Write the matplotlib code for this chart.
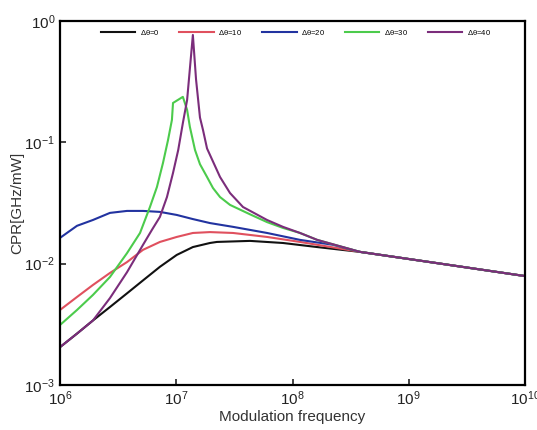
import matplotlib
matplotlib.use("Agg")
import matplotlib.pyplot as plt

plt.rcParams["font.family"] = ["Liberation Sans", "DejaVu Sans"]
plt.rcParams["mathtext.default"] = "regular"

# values (frequency in Hz, CPR in GHz/mW)
freq_0 = [1e6, 1.40e6, 1.92e6, 2.69e6, 3.77e6, 5.18e6, 7.24e6, 1.01e7, 1.39e7, 1.95e7, 2.24e7,
          4.31e7, 8.28e7, 1.63e8, 3.81e8, 1.52e9, 1e10]
cpr_0 = [2.05e-3, 2.65e-3, 3.40e-3, 4.39e-3, 5.69e-3, 7.28e-3, 9.42e-3, 1.18e-2, 1.37e-2, 1.48e-2, 1.51e-2,
         1.54e-2, 1.48e-2, 1.37e-2, 1.25e-2, 1.03e-2, 7.9e-3]

freq_10 = [1e6, 1.40e6, 1.92e6, 2.69e6, 3.77e6, 5.18e6, 7.24e6, 1.01e7, 1.39e7, 1.95e7, 3.08e7,
           6.04e7, 1.16e8, 3.81e8, 1.52e9, 1e10]
cpr_10 = [4.15e-3, 5.31e-3, 6.67e-3, 8.38e-3, 1.03e-2, 1.30e-2, 1.51e-2, 1.66e-2, 1.79e-2, 1.82e-2, 1.79e-2,
          1.66e-2, 1.51e-2, 1.25e-2, 1.03e-2, 7.9e-3]

freq_20 = [1e6, 1.40e6, 1.92e6, 2.69e6, 3.77e6, 5.18e6, 7.24e6, 1.01e7, 1.39e7, 1.95e7, 3.08e7,
           6.04e7, 1.16e8, 2.23e8, 3.81e8, 1.52e9, 1e10]
cpr_20 = [1.63e-2, 2.05e-2, 2.29e-2, 2.62e-2, 2.72e-2, 2.72e-2, 2.67e-2, 2.52e-2, 2.33e-2, 2.16e-2, 2.01e-2,
          1.79e-2, 1.57e-2, 1.43e-2, 1.25e-2, 1.03e-2, 7.9e-3]

freq_30 = [1e6, 1.40e6, 1.92e6, 2.69e6, 3.77e6, 4.88e6, 5.94e6, 6.82e6, 7.69e6, 8.49e6, 9.18e6, 9.38e6,
           1.14e7, 1.24e7, 1.31e7, 1.45e7, 1.60e7, 1.84e7, 2.07e7, 2.38e7, 2.90e7, 4.31e7, 6.04e7, 8.28e7,
           1.16e8, 1.63e8, 3.81e8, 1.52e9, 1e10]
cpr_30 = [3.12e-3, 4.15e-3, 5.52e-3, 7.76e-3, 1.22e-2, 1.79e-2, 2.93e-2, 4.28e-2, 6.76e-2, 0.104, 0.153, 0.211,
          0.237, 0.185, 0.134, 0.0865, 0.066, 0.0518, 0.0420, 0.0354, 0.0305, 0.0255, 0.0220, 0.0197,
          0.0179, 0.0157, 1.25e-2, 1.03e-2, 7.9e-3]

freq_40 = [1e6, 1.40e6, 1.92e6, 2.69e6, 3.77e6, 5.18e6, 6.18e6, 7.24e6, 8.32e6, 9.38e6, 1.04e7, 1.14e7,
           1.24e7, 1.39e7, 1.48e7, 1.60e7, 1.70e7, 1.84e7, 2.38e7, 2.90e7, 3.75e7, 6.04e7,
           8.28e7, 1.16e8, 1.63e8, 3.81e8, 1.52e9, 1e10]
cpr_40 = [2.05e-3, 2.65e-3, 3.40e-3, 5.2e-3, 8.5e-3, 1.43e-2, 1.9e-2, 2.43e-2, 3.54e-2, 5.59e-2, 8.65e-2, 0.144,
          0.223, 0.767, 0.33, 0.16, 0.126, 0.089, 0.0518, 0.0382, 0.0293, 0.0229,
          0.0201, 0.0179, 0.0157, 1.25e-2, 1.03e-2, 7.9e-3]

series = [
    (freq_0, cpr_0, "#111111", r"$\Delta\theta$=0"),
    (freq_10, cpr_10, "#e0505e", r"$\Delta\theta$=10"),
    (freq_20, cpr_20, "#2233a0", r"$\Delta\theta$=20"),
    (freq_30, cpr_30, "#4ccb4c", r"$\Delta\theta$=30"),
    (freq_40, cpr_40, "#7b2d7b", r"$\Delta\theta$=40"),
]

fig = plt.figure(figsize=(5.37, 4.30), dpi=100)
ax = fig.add_axes([0.1117, 0.1047, 0.866, 0.8465])

for f, v, color, label in series:
    ax.plot(f, v, color=color, lw=1.5, label=label)

ax.set_xscale("log")
ax.set_yscale("log")
ax.set_xlim(1e6, 1e10)
ax.set_ylim(1e-3, 1e0)
ax.minorticks_off()
ax.set_xticks([1e6, 1e7, 1e8, 1e9, 1e10])
ax.set_yticks([1e-3, 1e-2, 1e-1, 1e0])
ax.tick_params(direction="in", length=4, width=1.2, labelsize=11, colors="#222222")
for side in ax.spines.values():
    side.set_linewidth(1.6)

ax.set_xlabel("Modulation frequency", fontsize=11, color="#333333", labelpad=1)
ax.set_ylabel("CPR[GHz/mW]", fontsize=11, color="#333333", labelpad=0)

ax.legend(loc="upper center", ncol=5, frameon=False, fontsize=5.5,
          handlelength=4.5, columnspacing=2.6, handletextpad=0.6,
          bbox_to_anchor=(0.507, 1.0), borderaxespad=0.5)

fig.savefig("out.png", dpi=100)
